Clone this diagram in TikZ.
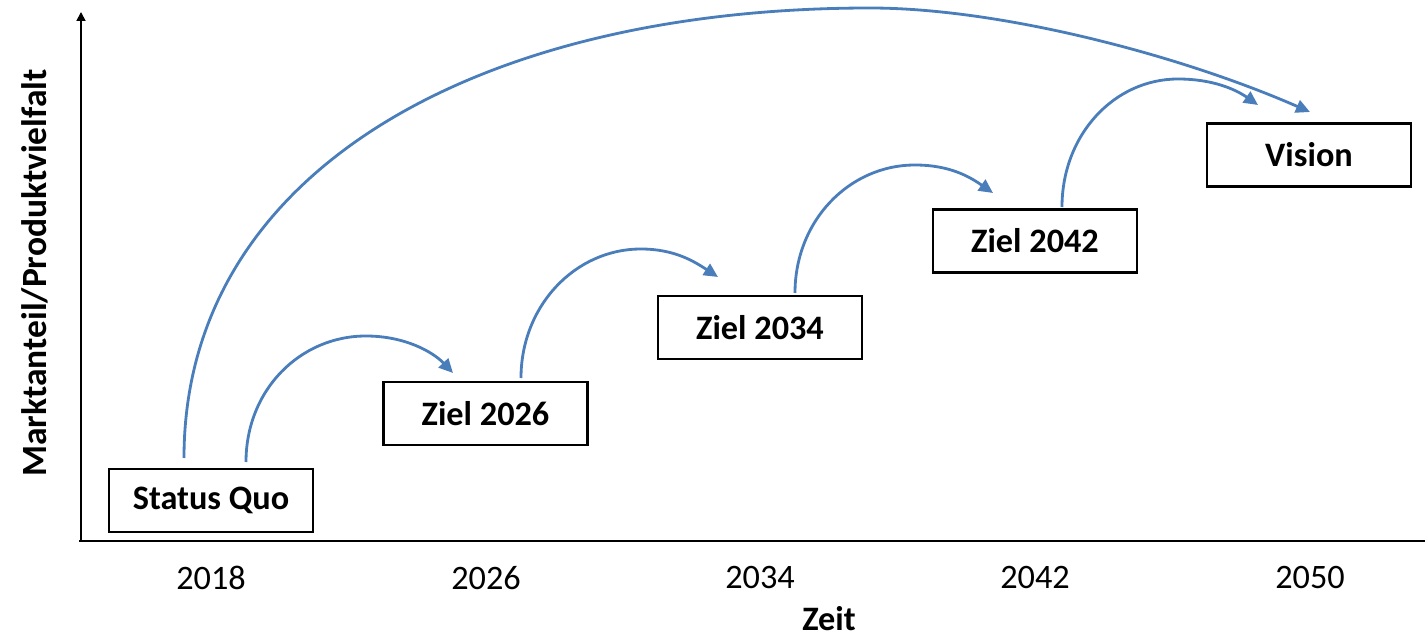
\documentclass[tikz,border=0pt]{standalone}
\usepackage{fontspec}
\setmainfont{Carlito}
\usetikzlibrary{arrows.meta}
\definecolor{arcblue}{RGB}{74,126,187}
\begin{document}
\begin{tikzpicture}[x=0.02cm,y=-0.02cm,
  box/.style={draw, line width=1.5pt, minimum width=4.08cm, minimum height=1.26cm, inner sep=0pt,
    font=\fontsize{19.5pt}{23pt}\selectfont\bfseries},
  yearlbl/.style={inner sep=0pt, font=\fontsize{19.5pt}{23pt}\selectfont},
  boldlbl/.style={inner sep=0pt, font=\fontsize{19.5pt}{23pt}\selectfont\bfseries},
  arcline/.style={draw=arcblue, line width=1.6pt, -{Triangle[length=8pt,width=7.5pt]}},
  axisline/.style={line width=1pt}]
\useasboundingbox (0,0) rectangle (1428,638);

% axes
\coordinate (o) at (81,541);
\coordinate (ytop) at (81,12);
\coordinate (xstart) at (79,541);
\coordinate (xend) at (1425,541);
\draw[axisline,-{Triangle[length=5pt,width=5pt]}] (o) -- (ytop);
\draw[axisline] (xstart) -- (xend);

% boxes
\node[box] (sq)  at (211,500.5)  {Status Quo};
\node[box] (z26) at (485.5,413.5) {Ziel 2026};
\node[box] (z34) at (760,327.5)  {Ziel 2034};
\node[box] (z42) at (1035,241)   {Ziel 2042};
\node[box] (vis) at (1309,155)   {Vision};

% year labels
\node[yearlbl] (y18) at (211,578)  {2018};
\node[yearlbl] (y26) at (486,578)  {2026};
\node[yearlbl] (y34) at (760,578)  {2034};
\node[yearlbl] (y42) at (1035,578) {2042};
\node[yearlbl] (y50) at (1310,578) {2050};
\node[boldlbl] (zeit) at (829,619) {Zeit};
\node[boldlbl, rotate=90, font=\fontsize{20.2pt}{24pt}\selectfont\bfseries] (ylab) at (35,273) {Marktanteil/Produktvielfalt};

% arc coordinates
\coordinate (bs) at (184,458);
\coordinate (bp) at (870,8);
\coordinate (be) at (1310,112);
\coordinate (a1s) at (246,462);
\coordinate (a1p) at (366,336);
\coordinate (a1e) at (453,373);
\coordinate (a2s) at (521,378);
\coordinate (a2p) at (641,249);
\coordinate (a2e) at (718,277);
\coordinate (a3s) at (795,293);
\coordinate (a3p) at (915,165);
\coordinate (a3e) at (993,193);
\coordinate (a4s) at (1062,207);
\coordinate (a4p) at (1178,79);
\coordinate (a4e) at (1258,105);

% arcs
\draw[arcline] (bs) .. controls (184,170) and (480,8) .. (bp)
  .. controls (1000,8) and (1180,55) .. (be);
\draw[arcline] (a1s) .. controls (246,390) and (300,336) .. (a1p)
  .. controls (405,336) and (433,352) .. (a1e);
\draw[arcline] (a2s) .. controls (521,306) and (575,249) .. (a2p)
  .. controls (675,249) and (695,262) .. (a2e);
\draw[arcline] (a3s) .. controls (795,221) and (849,165) .. (a3p)
  .. controls (950,165) and (970,177) .. (a3e);
\draw[arcline] (a4s) .. controls (1062,135) and (1114,79) .. (a4p)
  .. controls (1212,79) and (1235,89) .. (a4e);
\end{tikzpicture}
\end{document}
